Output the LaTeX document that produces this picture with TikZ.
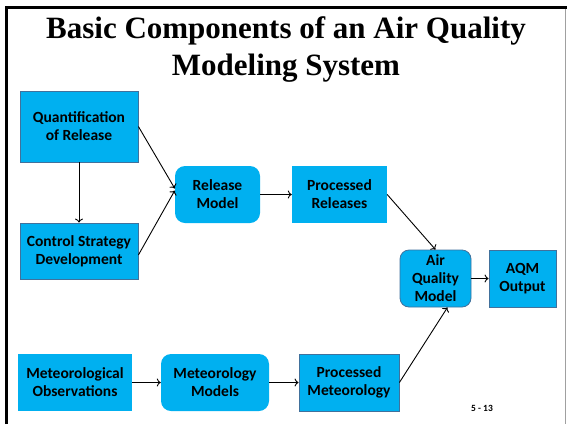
\documentclass[tikz,border=0pt]{standalone}
\usepackage{fontspec}
\setmainfont{Carlito}
\newfontfamily\titlefont{Liberation Serif}
\usetikzlibrary{calc,arrows.meta}
\definecolor{boxfill}{HTML}{00B0F0}
\definecolor{boxline}{HTML}{41719C}
\definecolor{framegray}{HTML}{A0A0A0}
\tikzset{
  base/.style={fill=boxfill, align=center, inner sep=1pt, font=\fontsize{15.5}{18}\selectfont\bfseries},
  sqbox/.style={base},
  sqline/.style={base, draw=boxline, line width=0.8pt},
  rbox/.style={base, rounded corners=10pt},
  rline/.style={base, draw=boxline, line width=0.8pt, rounded corners=9pt},
  conn/.style={-{To[length=4pt,width=8pt,line width=0.9pt]}, line width=0.9pt, black},
}
\begin{document}
\begin{tikzpicture}[x=1pt,y=-1pt]
\useasboundingbox (0,0) rectangle (567,424);
\fill[white] (0,0) rectangle (567,424);
% frame
\draw[framegray, line width=0.8pt] (565,7) -- (565,424);
\draw[black, line width=3pt] (6.5,424) -- (6.5,7.5) -- (567,7.5);
% title
\node[font=\titlefont\fontsize{31}{37}\selectfont\bfseries, align=center, inner sep=0] (title) at (286,50) {Basic Components of an Air Quality\\Modeling System};
% boxes
\node[sqline, minimum width=118pt, minimum height=71pt] (q) at (79,126.5) {Quantification\\of Release};
\node[sqline, minimum width=118pt, minimum height=56pt] (c) at (79,251) {Control Strategy\\Development};
\node[rbox, minimum width=85pt, minimum height=57pt] (rm) at (217.5,194.5) {Release\\Model};
\node[sqbox, minimum width=95pt, minimum height=57pt] (pr) at (339.5,194.5) {Processed\\Releases};
\node[rline, minimum width=71pt, minimum height=57pt] (aqm) at (435.5,278.5) {Air\\Quality\\Model};
\node[sqline, minimum width=67pt, minimum height=57pt] (out) at (522.5,278.5) {AQM\\Output};
\node[sqbox, minimum width=114pt, minimum height=57pt] (mo) at (75,382.5) {Meteorological\\Observations};
\node[rbox, minimum width=108pt, minimum height=57pt] (mm) at (215,382.5) {Meteorology\\Models};
\node[sqline, minimum width=100pt, minimum height=57pt] (pm) at (349,382.5) {Processed\\Meteorology};
\node[font=\fontsize{9.5}{11}\selectfont\bfseries, inner sep=0] (pg) at (482,408) {5 - 13};
% connectors
\draw[conn] (q.south) -- (c.north);
\draw[conn] (q.east) -- ([yshift=6pt]rm.west);
\draw[conn] ([yshift=-4pt]c.east) -- ([yshift=4pt]rm.west);
\draw[conn] (rm.east) -- (pr.west);
\draw[conn] (pr.east) -- (aqm.north);
\draw[conn] (aqm.east) -- (out.west);
\draw[conn] (mo.east) -- (mm.west);
\draw[conn] (mm.east) -- (pm.west);
\draw[conn] (pm.east) -- ([xshift=12pt]aqm.south);
\end{tikzpicture}
\end{document}
